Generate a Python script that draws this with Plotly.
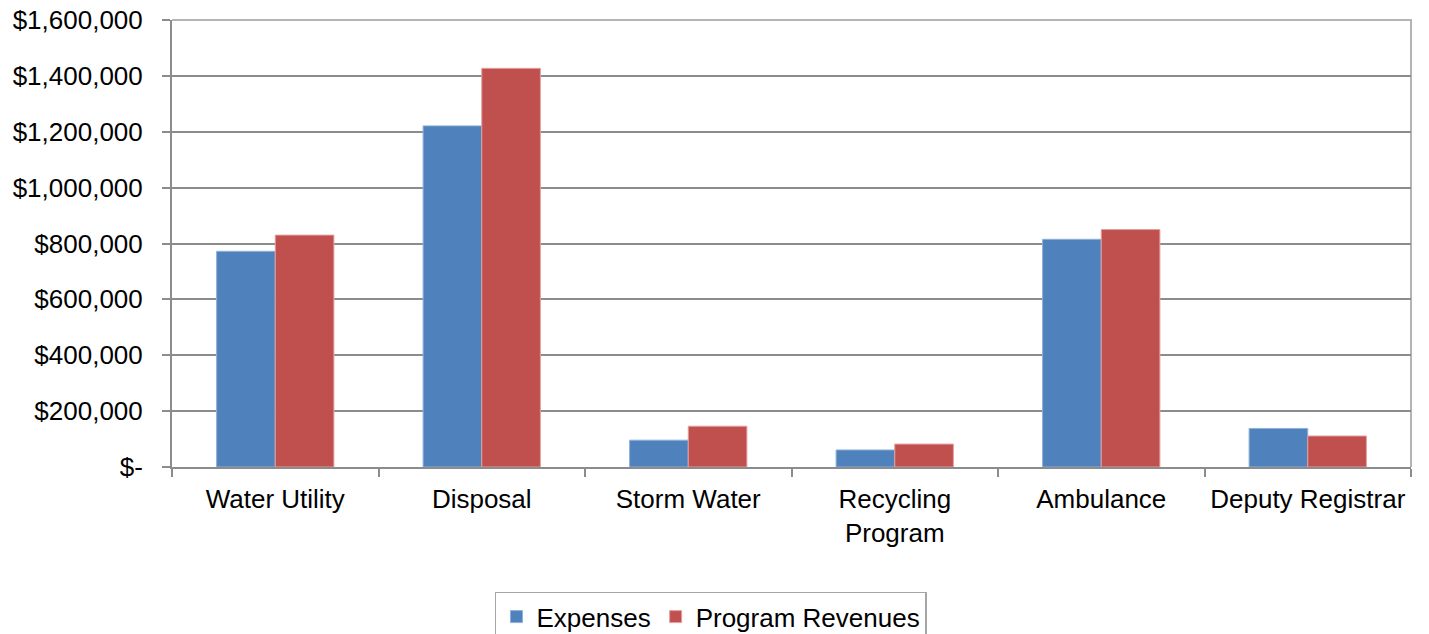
import plotly.graph_objects as go

# Program expenses vs. program revenues by service
categories = ["Water Utility", "Disposal", "Storm Water", "Recycling<br>Program",
              "Ambulance", "Deputy Registrar"]
expenses = [772000, 1221000, 96000, 61000, 815000, 138000]
revenues = [830000, 1427000, 146000, 82000, 850000, 111000]

y_tickvals = [0, 200000, 400000, 600000, 800000, 1000000, 1200000, 1400000, 1600000]
y_ticktext = ["$-", "$200,000", "$400,000", "$600,000", "$800,000",
              "$1,000,000", "$1,200,000", "$1,400,000", "$1,600,000"]

FONT = "Liberation Sans, Arial, sans-serif"
AXIS_GRAY = "#8c8c8c"
BORDER_GRAY = "#b4b4b4"
FS = 26

fig = go.Figure()
fig.add_trace(go.Bar(
    name="Expenses", x=categories, y=expenses,
    marker=dict(color="#4F81BD", line=dict(color="#8fb0d8", width=1)),
))
fig.add_trace(go.Bar(
    name="Program Revenues", x=categories, y=revenues,
    marker=dict(color="#C0504D", line=dict(color="#e2a09e", width=1)),
))

fig.update_layout(
    width=1429, height=634,
    margin=dict(l=172, r=18, t=20, b=167, autoexpand=False),
    paper_bgcolor="white", plot_bgcolor="white",
    font=dict(family=FONT, size=FS, color="#000000"),
    barmode="group", bargap=0.432, bargroupgap=0,
    showlegend=True,
    legend=dict(
        orientation="h", x=0.435, xanchor="center", y=-0.279, yanchor="top",
        bordercolor="#a6a6a6", borderwidth=1.5, font=dict(size=FS),
        itemwidth=30,
    ),
    shapes=[dict(
        type="path", xref="paper", yref="paper", path="M 0 1 L 1 1 L 1 0",
        line=dict(color=BORDER_GRAY, width=2), layer="below",
    )],
)

fig.update_xaxes(
    type="category", showline=True, linecolor=AXIS_GRAY, linewidth=2,
    ticks="outside", tickson="boundaries", ticklen=8, tickcolor=AXIS_GRAY, tickwidth=2,
    showgrid=False, tickfont=dict(size=FS), ticklabelstandoff=8,
)
fig.update_yaxes(
    range=[0, 1600000], tickvals=y_tickvals, ticktext=y_ticktext,
    showline=True, linecolor=AXIS_GRAY, linewidth=2,
    ticks="outside", ticklen=8, tickcolor=AXIS_GRAY, tickwidth=2,
    showgrid=True, gridcolor=AXIS_GRAY, gridwidth=2, zeroline=False,
    ticklabelstandoff=14, tickfont=dict(size=FS),
)

fig.write_html("out.html")
